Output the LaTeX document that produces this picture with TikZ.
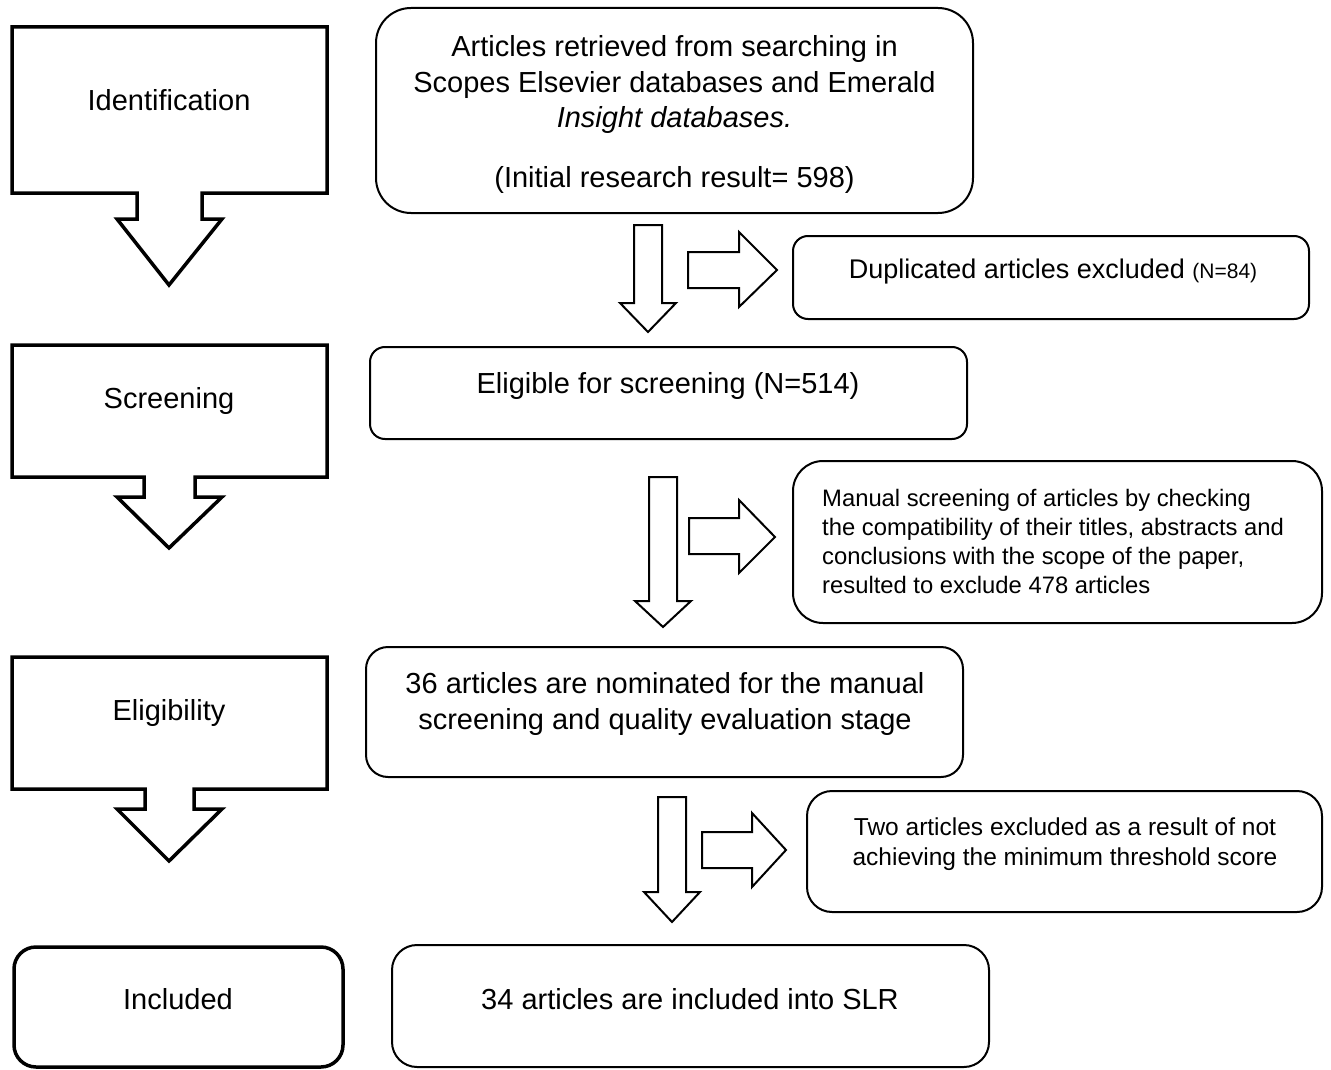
\documentclass[tikz,border=0pt]{standalone}
\usepackage{fontspec}
\setmainfont{Liberation Sans}
\begin{document}
\begin{tikzpicture}[x=1pt,y=-1pt,
  stageshape/.style={draw, line width=3.5pt, line join=miter},
  roundbox/.style={draw, line width=2pt, rectangle, inner sep=0pt, outer sep=0pt, anchor=north west},
  blockarrow/.style={draw, line width=2pt, line join=miter},
  bigtext/.style={font=\fontsize{29}{35.5}\selectfont, align=center, inner sep=0pt},
  midtext/.style={font=\fontsize{24.5}{30}\selectfont, align=center, inner sep=0pt},
  smalltext/.style={font=\fontsize{23.8}{29}\selectfont, align=left, inner sep=0pt}
]
\useasboundingbox (0,0) rectangle (1331,1070);

% left stage callouts
\draw[stageshape] (12,27) -- (327,27) -- (327,193) -- (202,193) -- (202,219) -- (222,219) -- (169,285) -- (117,219) -- (137,219) -- (137,193) -- (12,193) -- cycle;
\node[bigtext] (lid) at (169,100) {Identification};

\draw[stageshape] (12,345) -- (327,345) -- (327,477) -- (195,477) -- (195,497) -- (222,497) -- (169,548) -- (117,497) -- (144,497) -- (144,477) -- (12,477) -- cycle;
\node[bigtext] (lscr) at (169,401) {Screening};

\draw[stageshape] (12,657) -- (327,657) -- (327,789) -- (194,789) -- (194,809) -- (222,809) -- (169,861) -- (117,809) -- (145,809) -- (145,789) -- (12,789) -- cycle;
\node[bigtext] (lelig) at (169,713) {Eligibility};

\node[roundbox, line width=3.5pt, rounded corners=22pt, minimum width=329pt, minimum height=120pt] (inc) at (14,947) {};
\node[bigtext] (linc) at (178,999) {Included};

% right column boxes
\node[roundbox, rounded corners=35pt, minimum width=597pt, minimum height=205pt] (b1) at (376,8) {};
\node[bigtext] (t1) at (674.5,85) {Articles retrieved from searching in\\Scopes Elsevier databases and Emerald\\\textit{Insight databases.}};
\node[bigtext] (t1b) at (674.5,180) {(Initial research result= 598)};

\node[roundbox, rounded corners=15pt, minimum width=516pt, minimum height=83pt] (dup) at (793,236) {};
\node[font=\fontsize{27}{30}\selectfont, inner sep=0pt] (tdup) at (1053,272) {Duplicated articles excluded {\fontsize{21}{24}\selectfont(N=84)}};

\node[roundbox, rounded corners=15pt, minimum width=597pt, minimum height=92pt] (b2) at (370,347) {};
\node[bigtext] (t2) at (668,386) {Eligible for screening (N=514)};

\node[roundbox, rounded corners=30pt, minimum width=529pt, minimum height=162pt] (man) at (793,461) {};
\node[smalltext, anchor=west] (tman) at (822,541) {Manual screening of articles by checking\\the compatibility of their titles, abstracts and\\conclusions with the scope of the paper,\\resulted to exclude 478 articles};

\node[roundbox, rounded corners=22pt, minimum width=597pt, minimum height=130pt] (b3) at (366,647) {};
\node[bigtext] (t3) at (665,704) {36 articles are nominated for the manual\\screening and quality evaluation stage};

\node[roundbox, rounded corners=25pt, minimum width=515pt, minimum height=121pt] (two) at (807,791) {};
\node[midtext] (ttwo) at (1065,844) {Two articles excluded as a result of not\\achieving the minimum threshold score};

\node[roundbox, rounded corners=25pt, minimum width=597pt, minimum height=122pt] (b4) at (392,945) {};
\node[bigtext] (t4) at (690,999) {34 articles are included into SLR};

% block arrows, set 1
\draw[blockarrow] (634,225) -- (662,225) -- (662,303) -- (676,303) -- (648,332) -- (620,303) -- (634,303) -- cycle;
\draw[blockarrow] (688,252) -- (739,252) -- (739,232) -- (777,270) -- (739,307) -- (739,288) -- (688,288) -- cycle;
% set 2
\draw[blockarrow] (649,477) -- (677,477) -- (677,601) -- (691,601) -- (663,627) -- (635,601) -- (649,601) -- cycle;
\draw[blockarrow] (689,518) -- (739,518) -- (739,500) -- (775,537) -- (739,573) -- (739,554) -- (689,554) -- cycle;
% set 3
\draw[blockarrow] (658,797) -- (686,797) -- (686,892) -- (700,892) -- (672,922) -- (644,892) -- (658,892) -- cycle;
\draw[blockarrow] (702,832) -- (752,832) -- (752,813) -- (786,850) -- (752,887) -- (752,868) -- (702,868) -- cycle;
\end{tikzpicture}
\end{document}
